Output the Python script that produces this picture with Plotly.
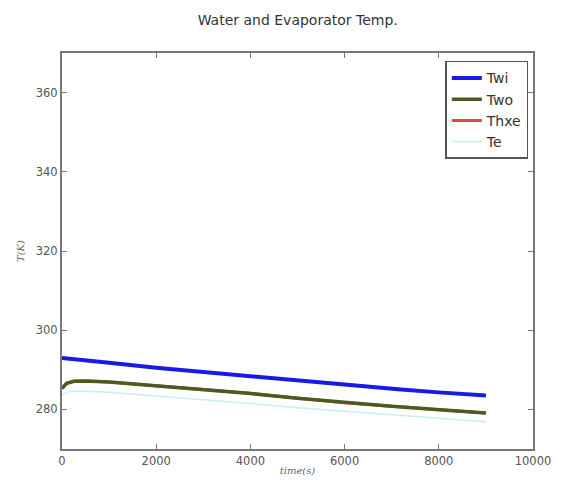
import plotly.graph_objects as go

time_s = [0, 100, 250, 500, 1000, 2000, 3000, 3500, 4000, 5000, 6000, 7000, 7200, 8000, 9000]
twi = [293.0, 292.9, 292.8, 292.5, 291.8, 290.5, 289.4, 288.9, 288.4, 287.3, 286.2, 285.2, 285.0, 284.3, 283.5]
two = [285.3, 286.6, 287.1, 287.2, 286.9, 286.0, 285.0, 284.5, 284.0, 282.8, 281.7, 280.8, 280.6, 279.9, 279.1]
thxe = [285.3, 286.6, 287.1, 287.2, 286.9, 286.0, 285.0, 284.7, 284.1, 282.8, 281.7, 280.8, 280.7, 279.9, 279.1]
te = [283.6, 284.3, 284.6, 284.6, 284.3, 283.4, 282.5, 282.0, 281.5, 280.4, 279.5, 278.6, 278.4, 277.7, 276.9]

x_ticks = [0, 2000, 4000, 6000, 8000, 10000]
x_tick_labels = ["0", "2000", "4000", "6000", "8000", "10000"]
y_ticks = [280, 300, 320, 340, 360]

fig = go.Figure()
fig.add_trace(go.Scatter(x=time_s, y=thxe, name="Thxe", mode="lines",
                         line=dict(color="#e8453c", width=3), legendrank=3))
fig.add_trace(go.Scatter(x=time_s, y=two, name="Two", mode="lines",
                         line=dict(color="#4b5a1e", width=3.5), legendrank=2))
fig.add_trace(go.Scatter(x=time_s, y=twi, name="Twi", mode="lines",
                         line=dict(color="#1a1ae6", width=4), legendrank=1))
fig.add_trace(go.Scatter(x=time_s, y=te, name="Te", mode="lines",
                         line=dict(color="#c8eef0", width=1.5), legendrank=4))

axis_common = dict(showgrid=False, zeroline=False, showline=True, linecolor="#777777",
                   linewidth=2, mirror="allticks", ticks="inside", ticklen=5, automargin=False,
                   tickcolor="#777777", tickfont=dict(family="DejaVu Sans", size=11.5, color="#555555"))

fig.update_layout(
    width=555, height=474,
    margin=dict(l=54, r=30, t=45, b=33),
    paper_bgcolor="white", plot_bgcolor="white",
    title=dict(text="Water and Evaporator Temp.", x=0.522, xanchor="center", y=0.975, yanchor="middle",
               automargin=False,
               font=dict(family="DejaVu Sans", size=14, color="#333333")),
    xaxis=dict(range=[0, 10000], tickvals=x_ticks, ticktext=x_tick_labels,
               title=dict(text="<i>time(s)</i>", standoff=0,
                          font=dict(family="DejaVu Serif", size=10, color="#666666")),
               **axis_common),
    yaxis=dict(range=[270, 370], tickvals=y_ticks,
               title=dict(text="<i>T(K)</i>", standoff=9,
                          font=dict(family="DejaVu Serif", size=10, color="#666666")),
               **axis_common),
    legend=dict(x=0.99, y=0.98, xanchor="right", yanchor="top",
                bordercolor="#555555", borderwidth=1.5, bgcolor="white",
                font=dict(family="DejaVu Sans", size=14, color="#333333"),
                tracegroupgap=2),
    showlegend=True,
)

fig.write_html("out.html")
